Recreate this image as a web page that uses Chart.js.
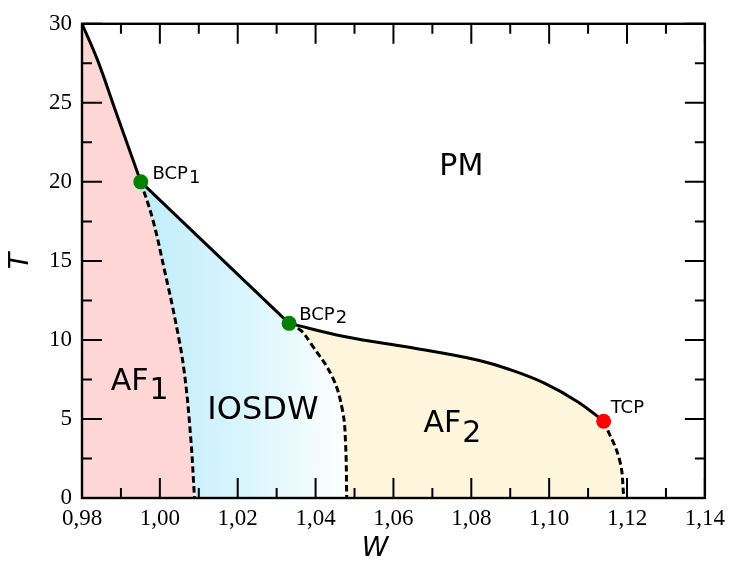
<!DOCTYPE html>
<html>
<head>
<meta charset="utf-8">
<script src="https://cdn.jsdelivr.net/npm/chart.js@4.4.1/dist/chart.umd.min.js"></script>
<style>
  html, body { margin: 0; padding: 0; background: #fff; }
  #wrap { width: 732px; height: 562px; position: relative; }
</style>
</head>
<body>
<div id="wrap"><canvas id="phase"></canvas></div>
<script>
// phase boundaries as (W, T) pairs
const af1Upper = [[0.98, 30], [0.9840, 27.7], [0.9886, 24.5], [0.9951, 20]];
const af1Iosdw = [[0.9951, 20], [0.9982, 17.6], [1.0012, 14.4], [1.0040, 11.2], [1.0062, 8.1], [1.0079, 3.9], [1.0089, 0]];
const iosdwUpper = [[0.9951, 20], [1.0332, 11.05]];
const iosdwAf2 = [[1.0332, 11.05], [1.0362, 10.6], [1.0388, 9.77], [1.0443, 7.66], [1.0469, 5.56], [1.0477, 3.46], [1.0480, 0]];
const af2Upper = [[1.0332, 11.05], [1.0477, 10.2], [1.0648, 9.5], [1.0818, 8.72], [1.0903, 8.09], [1.0989, 7.25], [1.1074, 6.08], [1.1140, 4.86]];
const af2Lower = [[1.1140, 4.86], [1.1181, 2.4], [1.1192, 0]];

// special points
const pointNames = ["BCP", "BCP", "TCP"];
const pointSubs = ["1", "2", ""];
const pointW = [0.9951, 1.0332, 1.1140];
const pointT = [20, 11.05, 4.86];
const pointColors = ["#008000", "#008000", "#ff0000"];

// phases
const phaseNames = ["PM", "AF", "IOSDW", "AF"];
const phaseSubs = ["", "1", "", "2"];

// ticks
const wTicks = [0.98, 1.00, 1.02, 1.04, 1.06, 1.08, 1.10, 1.12, 1.14];
const wMinor = [0.99, 1.01, 1.03, 1.05, 1.07, 1.09, 1.11, 1.13];
const tTicks = [0, 5, 10, 15, 20, 25, 30];
const tMinor = [2.5, 7.5, 12.5, 17.5, 22.5, 27.5];

const toXY = pts => pts.map(p => ({x: p[0], y: p[1]}));

function boundary(pts, dashed) {
  return {
    data: toXY(pts),
    borderColor: "#000",
    borderWidth: dashed ? 3 : 3,
    borderDash: dashed ? [6.5, 3.5] : [],
    pointRadius: 0,
    fill: false,
    tension: 0.4,
    order: 1
  };
}

function region(pts, color, order) {
  return {
    data: toXY(pts),
    borderWidth: 0,
    borderColor: "rgba(0,0,0,0)",
    backgroundColor: color,
    fill: "origin",
    pointRadius: 0,
    tension: 0.4,
    order: order
  };
}

function iosdwFill(context) {
  const chart = context.chart;
  if (!chart.chartArea) return "rgb(196,238,251)";
  const x = chart.scales.x;
  const g = chart.ctx.createLinearGradient(x.getPixelForValue(0.995), 0, x.getPixelForValue(1.049), 0);
  g.addColorStop(0, "rgb(192,237,251)");
  g.addColorStop(0.45, "rgb(214,244,253)");
  g.addColorStop(1, "rgb(255,255,255)");
  return g;
}

// inward ticks on all four sides plus the box
const framePlugin = {
  id: "frame",
  afterDatasetsDraw(chart) {
    const {ctx, chartArea: a, scales: {x, y}} = chart;
    ctx.save();
    ctx.strokeStyle = "#000";
    ctx.lineWidth = 2;
    ctx.beginPath();
    const xt = (v, len) => {
      const px = x.getPixelForValue(v);
      ctx.moveTo(px, a.bottom); ctx.lineTo(px, a.bottom - len);
      ctx.moveTo(px, a.top); ctx.lineTo(px, a.top + len);
    };
    const yt = (v, len) => {
      const py = y.getPixelForValue(v);
      ctx.moveTo(a.left, py); ctx.lineTo(a.left + len, py);
      ctx.moveTo(a.right, py); ctx.lineTo(a.right - len, py);
    };
    wTicks.forEach(v => xt(v, 20));
    wMinor.forEach(v => xt(v, 10));
    tTicks.forEach(v => yt(v, 20));
    tMinor.forEach(v => yt(v, 10));
    ctx.stroke();
    ctx.lineWidth = 2.4;
    ctx.strokeRect(a.left, a.top, a.width, a.height);
    ctx.restore();
  }
};

function subText(ctx, text, sub, px, py, size, drop) {
  ctx.font = size + 'px "DejaVu Sans"';
  ctx.fillText(text, px, py);
  if (sub) ctx.fillText(sub, px + ctx.measureText(text).width + 1, py + drop);
}

const labelPlugin = {
  id: "labels",
  afterDatasetsDraw(chart) {
    const {ctx, chartArea: a, scales: {x, y}} = chart;
    ctx.save();
    ctx.fillStyle = "#000";
    ctx.textAlign = "left";
    ctx.textBaseline = "alphabetic";
    const at = (w, t) => [x.getPixelForValue(w), y.getPixelForValue(t)];
    let p;
    p = at(1.0718, 20.46); subText(ctx, phaseNames[0], phaseSubs[0], p[0], p[1], 30, 0);
    p = at(0.9874, 6.82); subText(ctx, phaseNames[1], phaseSubs[1], p[0], p[1], 30, 9);
    p = at(1.0122, 4.99); subText(ctx, phaseNames[2], phaseSubs[2], p[0], p[1], 32, 0);
    p = at(1.0677, 4.17); subText(ctx, phaseNames[3], phaseSubs[3], p[0], p[1], 30, 10);
    p = at(0.9981, 20.21); subText(ctx, pointNames[0], pointSubs[0], p[0], p[1], 18, 4);
    p = at(1.0358, 11.24); subText(ctx, pointNames[1], pointSubs[1], p[0], p[1], 18, 3);
    p = at(1.1158, 5.37); subText(ctx, pointNames[2], pointSubs[2], p[0], p[1], 18, 0);

    // axis titles
    ctx.font = 'italic 27px "DejaVu Sans"';
    ctx.textAlign = "center";
    ctx.textBaseline = "middle";
    ctx.fillText("W", a.left + 293, 549);
    ctx.translate(21, (a.top + a.bottom) / 2);
    ctx.rotate(-Math.PI / 2);
    ctx.fillText("T", 0, 0);
    ctx.restore();
  }
};

new Chart(document.getElementById("phase"), {
  type: "line",
  data: {
    datasets: [
      {
        data: pointW.map((w, i) => ({x: w, y: pointT[i]})),
        showLine: false,
        pointRadius: 7.5,
        pointBackgroundColor: pointColors,
        pointBorderWidth: 0,
        pointBorderColor: pointColors,
        order: 0
      },
      boundary(af1Upper, false),
      boundary(af1Iosdw, true),
      boundary(iosdwUpper, false),
      boundary(iosdwAf2, true),
      boundary(af2Upper, false),
      boundary(af2Lower, true),
      region(af1Upper.concat(af1Iosdw.slice(1)), "rgb(255,214,214)", 2),
      region(iosdwUpper.concat(iosdwAf2.slice(1)), iosdwFill, 3),
      region(af2Upper.concat(af2Lower.slice(1)), "rgb(253,246,221)", 4)
    ]
  },
  options: {
    responsive: true,
    maintainAspectRatio: false,
    animation: false,
    layout: {padding: {top: 23, right: 24, left: 0, bottom: 0}},
    plugins: {
      legend: {display: false},
      tooltip: {enabled: false},
      filler: {drawTime: "beforeDatasetsDraw"}
    },
    scales: {
      x: {
        type: "linear",
        min: 0.98,
        max: 1.14,
        afterBuildTicks: s => { s.ticks = wTicks.map(v => ({value: v})); },
        afterFit: s => { s.height = 64; },
        grid: {display: false, drawTicks: false},
        border: {display: false},
        ticks: {
          autoSkip: false,
          maxRotation: 0,
          padding: 7,
          color: "#000",
          font: {family: "Liberation Serif", size: 23},
          callback: v => v.toFixed(2).replace(".", ",")
        }
      },
      y: {
        min: 0,
        max: 30,
        afterBuildTicks: s => { s.ticks = tTicks.map(v => ({value: v})); },
        afterFit: s => { s.width = 82; },
        grid: {display: false, drawTicks: false},
        border: {display: false},
        ticks: {
          padding: 10,
          color: "#000",
          font: {family: "Liberation Serif", size: 23}
        }
      }
    }
  },
  plugins: [framePlugin, labelPlugin]
});
</script>
</body>
</html>
